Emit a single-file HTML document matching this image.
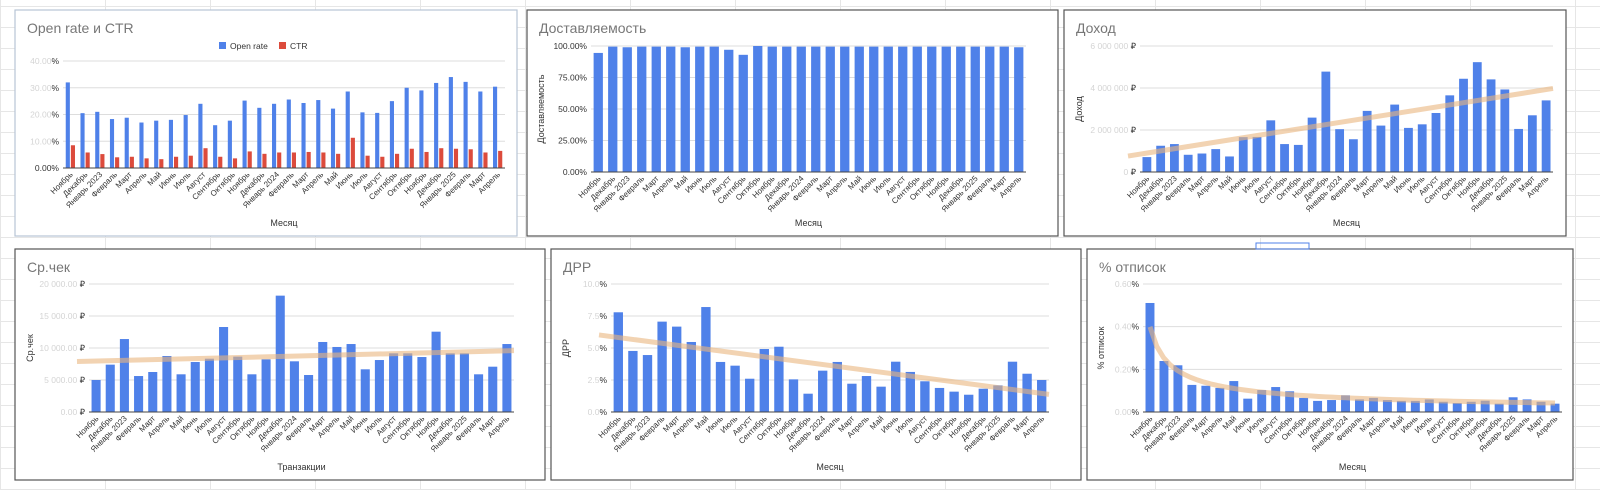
<!DOCTYPE html>
<html><head><meta charset="utf-8">
<style>
body{margin:0;width:1600px;height:490px;overflow:hidden;background:#fff;font-family:"Liberation Sans",Arial,sans-serif;}
#bg{position:absolute;left:0;top:0;width:1600px;height:490px;
background-image:repeating-linear-gradient(0deg,#e6e6e6 0 1px,transparent 1px 21px),repeating-linear-gradient(90deg,#e6e6e6 0 1px,transparent 1px 105px);}
svg{position:absolute;left:0;top:0}
</style></head><body>
<div id="bg"></div>
<svg id="s" width="1600" height="490"></svg>
<script>
const months=["Ноябрь","Декабрь","Январь 2023","Февраль","Март","Апрель","Май","Июнь","Июль","Август","Сентябрь","Октябрь","Ноябрь","Декабрь","Январь 2024","Февраль","Март","Апрель","Май","Июнь","Июль","Август","Сентябрь","Октябрь","Ноябрь","Декабрь","Январь 2025","Февраль","Март","Апрель"];
const openRate=[32,20.5,21,18.3,18.8,17,17.7,18,19.8,24,16,17.7,25.2,22.5,24,25.6,24.3,25.4,22.2,28.6,20.8,20.6,25,30,29,31.8,34,32.2,28.6,30.4];
const ctr=[8.5,5.8,5.2,4,4.2,3.6,3.3,4.2,4.6,7.4,4.2,3.6,6.2,5.3,5.8,5.8,6,5.8,5.3,11.3,4.6,4.2,5.3,7.2,6,7.4,7.2,7,5.8,6.4];
const delivery=[94.5,99.5,99,99.5,99.5,99.5,99,99.5,99.5,97,93,100,99.5,99.5,99.5,99.5,99.5,99.5,99.5,99.5,99.5,99.5,99.5,99.5,99.5,99.5,99.5,99.5,99.5,99];
const income=[0.71,1.25,1.33,0.82,0.88,1.09,0.74,1.66,1.67,2.46,1.33,1.29,2.59,4.78,2.04,1.56,2.91,2.21,3.21,2.1,2.27,2.81,3.65,4.44,5.23,4.41,3.93,2.05,2.7,3.41];
const avgCheck=[5000,7400,11400,5620,6250,8750,5890,7810,8330,13280,8650,5890,8230,18180,7920,5780,10940,10160,10620,6670,8120,9170,9170,8590,12550,9170,9170,5890,7080,10620];
const drr=[7.79,4.77,4.45,7.06,6.67,5.47,8.2,3.91,3.62,2.6,4.92,5.1,2.55,1.43,3.23,3.91,2.21,2.81,1.98,3.93,3.13,2.4,1.88,1.59,1.35,1.82,2.08,3.93,2.99,2.5];
const unsub=[0.511,0.239,0.219,0.127,0.123,0.113,0.145,0.0625,0.103,0.117,0.097,0.066,0.052,0.056,0.078,0.059,0.066,0.056,0.052,0.052,0.059,0.048,0.042,0.048,0.053,0.039,0.069,0.059,0.048,0.039];
const ticksOR=[["","0.00%"],["10.00","%"],["20.00","%"],["30.00","%"],["40.00","%"]];
const ticksDel=[["","0.00%"],["","25.00%"],["","50.00%"],["","75.00%"],["","100.00%"]];
const ticksInc=[["0 "," ₽"],["2 000 000"," ₽"],["4 000 000"," ₽"],["6 000 000"," ₽"]];
const ticksAvg=[["0.00"," ₽"],["5 000.00"," ₽"],["10 000.00"," ₽"],["15 000.00"," ₽"],["20 000.00"," ₽"]];
const ticksDrr=[["0.0","%"],["2.5","%"],["5.0","%"],["7.5","%"],["10.0","%"]];
const ticksUns=[["0.00","%"],["0.20","%"],["0.40","%"],["0.60","%"]];

const S=document.getElementById('s');const NS="http://www.w3.org/2000/svg";
function el(t,a,p){const e=document.createElementNS(NS,t);for(const k in a)e.setAttribute(k,a[k]);(p||S).appendChild(e);return e;}
function txt(str,a,p){const e=el('text',a,p);e.textContent=str;return e;}

function chart(c){
  const g=el('g',{});
  
  
  const box=el('rect',{x:c.bx,y:c.by,width:c.bw,height:c.bh,fill:'#fff',stroke:c.bc||'#555','stroke-width':1.2},g);
  
  
  const tt=txt(c.title,{x:c.bx+12,y:c.by+23,'font-size':14,fill:'#777'},g);
  
  
  const n=months.length,sp=(c.x1-c.x0)/n;
  const ys=v=>c.y0-(v/c.max)*(c.y0-c.y1);
  const nt=c.ticks.length;
  c.ticks.forEach((t,i)=>{
    const y=c.y0-i*(c.y0-c.y1)/(nt-1);
    if(i>0){const gl=el('line',{x1:c.x0,x2:c.x1,y1:y,y2:y,stroke:'#ddd'},g);
      
      }
    const tl=txt('',{x:c.x0-4,y:y+3,'font-size':8.5,'text-anchor':'end',fill:'#333'},g);
    
    
    const a=el('tspan',{fill:'#d4d4d4'},tl);a.textContent=t[0];
    const b=el('tspan',{fill:'#333'},tl);b.textContent=t[1];
  });
  const bw=sp*(c.series.length>1?0.28:0.64);
  c.series.forEach((s,si)=>{
    s.vals.forEach((v,i)=>{
      let cx=c.x0+sp*(i+0.5);
      if(c.series.length>1)cx+=(si-0.5)*(bw+1);
      const r=el('rect',{x:cx-bw/2,y:ys(v),width:bw,height:c.y0-ys(v),fill:s.color},g);
      
      
    });
  });
  const ax=el('line',{x1:c.x0,x2:c.x1,y1:c.y0,y2:c.y0,stroke:'#444'},g);
  
  
  if(c.trend){
    const vals=c.series[0].vals;let pts=[];
    if(c.trend==='lin'){
      let sx=0,sy=0,sxy=0,sxx=0;vals.forEach((v,i)=>{sx+=i;sy+=v;sxy+=i*v;sxx+=i*i;});
      const b=(n*sxy-sx*sy)/(n*sxx-sx*sx),a=(sy-b*sx)/n;
      pts=[[c.x0-12,a+b*(-0.8)],[c.x1,a+b*(n-0.5)]];
    }else{
      let sx=0,sy=0,sxy=0,sxx=0;vals.forEach((v,i)=>{const x=Math.log(i+1),y=Math.log(v);sx+=x;sy+=y;sxy+=x*y;sxx+=x*x;});
      const b=(n*sxy-sx*sy)/(n*sxx-sx*sx),a=(sy-b*sx)/n;
      for(let k=0;k<=60;k++){const xi=k*(n-1)/60;pts.push([c.x0+sp*(xi+0.5),Math.exp(a)*Math.pow(xi+1,b)]);}
    }
    const tr=el('polyline',{points:pts.map(p=>p[0]+','+ys(p[1])).join(' '),fill:'none',stroke:'#e9b57f','stroke-width':5,'stroke-opacity':0.6,'stroke-linecap':'butt'},g);
    
    
  }
  months.forEach((m,i)=>{
    const cx=c.x0+sp*(i+0.5),y=c.y0+7;
    const l=txt(m,{x:cx+3,y:y,'font-size':8,'text-anchor':'end',fill:'#333',transform:`rotate(-45 ${cx+3} ${y})`},g);
    
    
  });
  const xt=txt(c.xtitle,{x:(c.x0+c.x1)/2,y:c.by+c.bh-10,'font-size':9,'text-anchor':'middle',fill:'#333'},g);
  
  
  if(c.ytitle){const yx=c.ytx,yy=(c.y0+c.y1)/2;
    const yt=txt(c.ytitle,{x:yx,y:yy,'font-size':9,'text-anchor':'middle',fill:'#333',transform:`rotate(-90 ${yx} ${yy})`},g);
    
    }
  return g;
}
const blue='#4f81e9',red='#dc4b3c';
const g1=chart({name:'open-rate-ctr-chart',title:'Open rate и CTR',bx:15,by:10,bw:502,bh:226,bc:'#b8c4d6',x0:63,x1:505,y0:168,y1:61,max:40,ticks:ticksOR,series:[{key:'open-rate',vals:openRate,color:blue},{key:'ctr',vals:ctr,color:red}],xtitle:'Месяц'});
const lg=el('g',{},g1);


el('rect',{x:219,y:42,width:7,height:7,fill:blue},lg);
txt('Open rate',{x:230,y:49,'font-size':8.5,fill:'#333'},lg);
el('rect',{x:279,y:42,width:7,height:7,fill:red},lg);
txt('CTR',{x:290,y:49,'font-size':8.5,fill:'#333'},lg);
chart({name:'deliverability-chart',title:'Доставляемость',bx:527,by:10,bw:531,bh:226,x0:591,x1:1026,y0:172,y1:46,max:100,ticks:ticksDel,series:[{key:'delivery',vals:delivery,color:blue}],xtitle:'Месяц',ytitle:'Доставляемость',ytx:544});
chart({name:'income-chart',title:'Доход',bx:1064,by:10,bw:502,bh:226,x0:1140,x1:1553,y0:172,y1:46,max:6,ticks:ticksInc,series:[{key:'income',vals:income,color:blue}],xtitle:'Месяц',ytitle:'Доход',ytx:1082,trend:'lin'});
chart({name:'avg-check-chart',title:'Ср.чек',bx:15,by:249,bw:530,bh:231,x0:89,x1:514,y0:412,y1:284,max:20000,ticks:ticksAvg,series:[{key:'avg-check',vals:avgCheck,color:blue}],xtitle:'Транзакции',ytitle:'Ср.чек',ytx:33,trend:'lin'});
chart({name:'drr-chart',title:'ДРР',bx:551,by:249,bw:530,bh:231,x0:611,x1:1049,y0:412,y1:284,max:10,ticks:ticksDrr,series:[{key:'drr',vals:drr,color:blue}],xtitle:'Месяц',ytitle:'ДРР',ytx:569,trend:'lin'});
chart({name:'unsubscribe-chart',title:'% отписок',bx:1087,by:249,bw:486,bh:231,x0:1143,x1:1562,y0:412,y1:284,max:0.6,ticks:ticksUns,series:[{key:'unsubscribe',vals:unsub,color:blue}],xtitle:'Месяц',ytitle:'% отписок',ytx:1104,trend:'pow'});
const sel=el('rect',{x:1256,y:243,width:53,height:6,fill:'none',stroke:'#4f81e9','stroke-width':1});


</script>
</body></html>
